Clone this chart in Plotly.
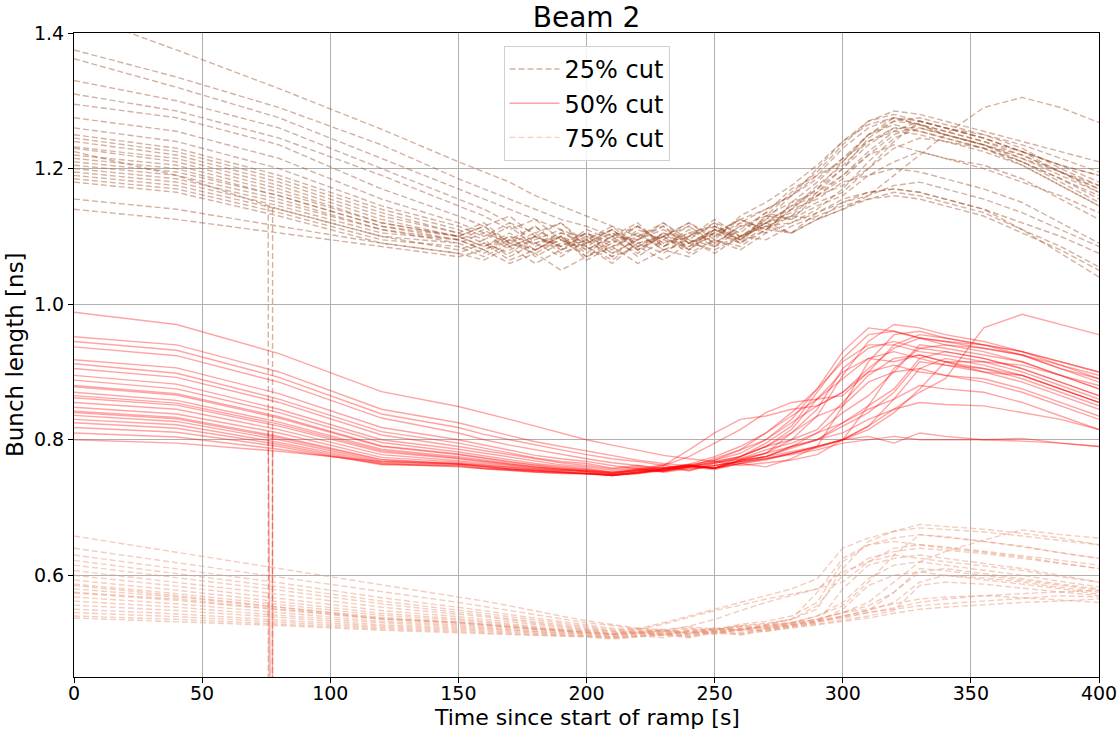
import plotly.graph_objects as go

# ---------------- data ----------------
# sample times [s]: smooth decline, then the noisy plateau every 10 s, then the rise / decay
TIME = [0, 40, 80, 120, 150,
        160, 170, 180, 190, 200, 210, 220, 230, 240, 250, 260, 270, 280, 290,
        300, 310, 320, 330, 340,
        355, 370, 385, 400]

CUT25_LINES = [
    [1.43, 1.375, 1.318, 1.258, 1.21, 1.195, 1.18, 1.16, 1.145, 1.13, 1.115, 1.10, 1.115, 1.09, 1.11, 1.095, 1.12, 1.135, 1.16, 1.19, 1.225, 1.255, 1.27, 1.26, 1.245, 1.225, 1.205, 1.19],
    [1.375, 1.335, 1.29, 1.235, 1.185, 1.17, 1.155, 1.14, 1.125, 1.115, 1.10, 1.115, 1.09, 1.105, 1.085, 1.10, 1.115, 1.105, 1.125, 1.14, 1.16, 1.19, 1.22, 1.25, 1.29, 1.305, 1.29, 1.268],
    [1.362, 1.32, 1.275, 1.215, 1.17, 1.155, 1.14, 1.125, 1.11, 1.095, 1.115, 1.085, 1.105, 1.08, 1.11, 1.095, 1.125, 1.14, 1.17, 1.21, 1.25, 1.275, 1.265, 1.255, 1.24, 1.225, 1.205, 1.19],
    [1.33, 1.30, 1.26, 1.20, 1.155, 1.14, 1.12, 1.105, 1.12, 1.09, 1.105, 1.08, 1.10, 1.115, 1.09, 1.115, 1.13, 1.165, 1.195, 1.235, 1.27, 1.285, 1.28, 1.27, 1.255, 1.24, 1.225, 1.21],
    [1.31, 1.285, 1.245, 1.19, 1.145, 1.13, 1.11, 1.125, 1.095, 1.08, 1.10, 1.12, 1.085, 1.10, 1.125, 1.10, 1.12, 1.145, 1.17, 1.20, 1.245, 1.27, 1.265, 1.25, 1.235, 1.215, 1.195, 1.175],
    [1.295, 1.275, 1.235, 1.17, 1.13, 1.115, 1.13, 1.10, 1.085, 1.105, 1.075, 1.095, 1.12, 1.09, 1.105, 1.125, 1.11, 1.13, 1.15, 1.165, 1.20, 1.24, 1.27, 1.26, 1.245, 1.225, 1.205, 1.18],
    [1.275, 1.255, 1.215, 1.155, 1.12, 1.105, 1.09, 1.115, 1.08, 1.095, 1.07, 1.10, 1.085, 1.11, 1.09, 1.115, 1.12, 1.105, 1.135, 1.15, 1.165, 1.17, 1.165, 1.155, 1.14, 1.12, 1.10, 1.075],
    [1.26, 1.24, 1.20, 1.145, 1.115, 1.10, 1.12, 1.09, 1.105, 1.10, 1.08, 1.11, 1.095, 1.115, 1.085, 1.12, 1.14, 1.16, 1.19, 1.23, 1.26, 1.275, 1.265, 1.255, 1.24, 1.22, 1.195, 1.17],
    [1.245, 1.225, 1.185, 1.135, 1.105, 1.12, 1.09, 1.105, 1.075, 1.09, 1.11, 1.08, 1.105, 1.095, 1.12, 1.09, 1.13, 1.125, 1.145, 1.16, 1.19, 1.21, 1.225, 1.215, 1.20, 1.18, 1.16, 1.135],
    [1.232, 1.215, 1.175, 1.125, 1.10, 1.085, 1.105, 1.08, 1.10, 1.07, 1.095, 1.115, 1.09, 1.10, 1.12, 1.105, 1.135, 1.17, 1.19, 1.21, 1.25, 1.265, 1.255, 1.245, 1.23, 1.21, 1.185, 1.16],
    [1.22, 1.205, 1.165, 1.12, 1.10, 1.115, 1.085, 1.10, 1.12, 1.085, 1.105, 1.09, 1.075, 1.10, 1.115, 1.095, 1.12, 1.13, 1.125, 1.15, 1.16, 1.175, 1.18, 1.17, 1.155, 1.135, 1.11, 1.085],
    [1.21, 1.195, 1.16, 1.115, 1.095, 1.08, 1.10, 1.09, 1.07, 1.095, 1.11, 1.085, 1.10, 1.12, 1.095, 1.13, 1.15, 1.175, 1.205, 1.24, 1.27, 1.28, 1.27, 1.26, 1.245, 1.225, 1.195, 1.165],
    [1.20, 1.185, 1.15, 1.11, 1.09, 1.105, 1.08, 1.095, 1.11, 1.08, 1.10, 1.07, 1.095, 1.085, 1.11, 1.10, 1.12, 1.145, 1.16, 1.185, 1.22, 1.25, 1.265, 1.25, 1.235, 1.21, 1.18, 1.15],
    [1.195, 1.18, 1.145, 1.105, 1.095, 1.08, 1.095, 1.115, 1.085, 1.10, 1.075, 1.095, 1.11, 1.09, 1.105, 1.125, 1.11, 1.14, 1.155, 1.18, 1.19, 1.20, 1.195, 1.185, 1.17, 1.15, 1.12, 1.09],
    [1.19, 1.175, 1.14, 1.10, 1.08, 1.095, 1.07, 1.09, 1.10, 1.065, 1.085, 1.105, 1.08, 1.095, 1.075, 1.10, 1.115, 1.13, 1.165, 1.20, 1.235, 1.26, 1.255, 1.245, 1.23, 1.205, 1.175, 1.145],
    [1.185, 1.17, 1.135, 1.095, 1.085, 1.07, 1.09, 1.075, 1.095, 1.085, 1.06, 1.09, 1.10, 1.075, 1.095, 1.085, 1.11, 1.105, 1.125, 1.14, 1.155, 1.16, 1.155, 1.145, 1.13, 1.105, 1.08, 1.05],
    [1.18, 1.165, 1.13, 1.09, 1.075, 1.09, 1.065, 1.08, 1.095, 1.07, 1.09, 1.105, 1.08, 1.09, 1.11, 1.09, 1.115, 1.12, 1.14, 1.17, 1.21, 1.245, 1.26, 1.25, 1.235, 1.22, 1.195, 1.17],
    [1.155, 1.14, 1.115, 1.09, 1.075, 1.065, 1.085, 1.06, 1.08, 1.095, 1.07, 1.085, 1.065, 1.09, 1.08, 1.10, 1.095, 1.115, 1.13, 1.145, 1.155, 1.165, 1.16, 1.15, 1.135, 1.11, 1.085, 1.055],
    [1.14, 1.125, 1.105, 1.085, 1.07, 1.08, 1.06, 1.075, 1.05, 1.07, 1.085, 1.06, 1.08, 1.07, 1.095, 1.08, 1.105, 1.12, 1.135, 1.155, 1.165, 1.17, 1.165, 1.155, 1.14, 1.11, 1.075, 1.04],
    [1.225, 1.19, 1.14, 1.10, 1.09, 1.075, 1.095, 1.08, 1.10, 1.085, 1.065, 1.09, 1.10, 1.08, 1.115, 1.10, 1.125, 1.16, 1.20, 1.24, 1.265, 1.275, 1.27, 1.26, 1.25, 1.23, 1.20, 1.175],
    [1.25, 1.23, 1.19, 1.14, 1.11, 1.095, 1.115, 1.085, 1.105, 1.09, 1.11, 1.08, 1.10, 1.12, 1.10, 1.125, 1.14, 1.16, 1.185, 1.215, 1.24, 1.255, 1.25, 1.24, 1.23, 1.21, 1.185, 1.155],
    [1.205, 1.19, 1.155, 1.11, 1.095, 1.11, 1.085, 1.10, 1.08, 1.105, 1.09, 1.115, 1.085, 1.105, 1.115, 1.095, 1.13, 1.15, 1.165, 1.19, 1.22, 1.235, 1.225, 1.215, 1.205, 1.185, 1.155, 1.125],
    [1.24, 1.22, 1.18, 1.13, 1.105, 1.09, 1.075, 1.10, 1.085, 1.11, 1.095, 1.075, 1.105, 1.085, 1.10, 1.12, 1.105, 1.15, 1.18, 1.215, 1.25, 1.27, 1.275, 1.265, 1.25, 1.235, 1.215, 1.195],
    [1.215, 1.20, 1.16, 1.115, 1.10, 1.085, 1.10, 1.07, 1.09, 1.105, 1.085, 1.10, 1.12, 1.095, 1.085, 1.11, 1.135, 1.125, 1.16, 1.175, 1.20, 1.23, 1.245, 1.24, 1.225, 1.205, 1.175, 1.145],
    [1.23, 1.21, 1.17, 1.12, 1.10, 1.115, 1.09, 1.08, 1.10, 1.075, 1.10, 1.095, 1.115, 1.08, 1.105, 1.09, 1.11, 1.14, 1.175, 1.205, 1.24, 1.26, 1.26, 1.25, 1.235, 1.215, 1.19, 1.165],
]

CUT50_LINES = [
    [0.988, 0.97, 0.927, 0.871, 0.849, 0.84, 0.83, 0.82, 0.81, 0.80, 0.792, 0.785, 0.777, 0.772, 0.768, 0.762, 0.766, 0.77, 0.778, 0.80, 0.85, 0.905, 0.935, 0.94, 0.935, 0.925, 0.905, 0.89],
    [0.952, 0.94, 0.90, 0.845, 0.825, 0.815, 0.806, 0.797, 0.79, 0.783, 0.776, 0.77, 0.765, 0.762, 0.758, 0.765, 0.76, 0.772, 0.79, 0.85, 0.915, 0.955, 0.96, 0.95, 0.94, 0.93, 0.915, 0.90],
    [0.945, 0.932, 0.892, 0.838, 0.818, 0.808, 0.80, 0.792, 0.785, 0.778, 0.772, 0.768, 0.762, 0.775, 0.795, 0.815, 0.84, 0.855, 0.86, 0.865, 0.90, 0.94, 0.955, 0.95, 0.94, 0.93, 0.91, 0.895],
    [0.937, 0.924, 0.885, 0.832, 0.81, 0.80, 0.792, 0.785, 0.778, 0.772, 0.766, 0.762, 0.758, 0.764, 0.758, 0.77, 0.78, 0.80, 0.835, 0.895, 0.945, 0.97, 0.965, 0.955, 0.945, 0.93, 0.915, 0.90],
    [0.918, 0.906, 0.868, 0.818, 0.80, 0.792, 0.785, 0.777, 0.772, 0.768, 0.762, 0.757, 0.763, 0.755, 0.762, 0.77, 0.775, 0.788, 0.80, 0.825, 0.85, 0.875, 0.92, 0.93, 0.92, 0.905, 0.885, 0.865],
    [0.912, 0.898, 0.86, 0.812, 0.795, 0.788, 0.78, 0.773, 0.768, 0.765, 0.758, 0.762, 0.755, 0.76, 0.768, 0.775, 0.79, 0.815, 0.86, 0.90, 0.92, 0.915, 0.925, 0.915, 0.90, 0.885, 0.865, 0.845],
    [0.905, 0.892, 0.855, 0.807, 0.79, 0.784, 0.777, 0.771, 0.766, 0.762, 0.757, 0.76, 0.754, 0.762, 0.758, 0.768, 0.775, 0.79, 0.81, 0.84, 0.865, 0.90, 0.94, 0.935, 0.925, 0.915, 0.895, 0.875],
    [0.895, 0.882, 0.845, 0.80, 0.786, 0.78, 0.774, 0.768, 0.763, 0.76, 0.755, 0.758, 0.752, 0.757, 0.762, 0.768, 0.772, 0.78, 0.788, 0.80, 0.805, 0.795, 0.81, 0.805, 0.80, 0.802, 0.795, 0.79],
    [0.888, 0.875, 0.84, 0.796, 0.782, 0.776, 0.77, 0.765, 0.761, 0.758, 0.752, 0.756, 0.76, 0.754, 0.766, 0.772, 0.78, 0.81, 0.845, 0.905, 0.935, 0.945, 0.935, 0.93, 0.92, 0.905, 0.885, 0.865],
    [0.878, 0.866, 0.832, 0.79, 0.778, 0.772, 0.767, 0.762, 0.758, 0.756, 0.75, 0.755, 0.758, 0.762, 0.758, 0.77, 0.775, 0.79, 0.80, 0.82, 0.84, 0.87, 0.915, 0.91, 0.90, 0.895, 0.875, 0.855],
    [0.87, 0.858, 0.826, 0.786, 0.775, 0.77, 0.765, 0.76, 0.757, 0.754, 0.75, 0.756, 0.753, 0.76, 0.772, 0.785, 0.81, 0.84, 0.875, 0.915, 0.94, 0.94, 0.93, 0.925, 0.915, 0.90, 0.88, 0.86],
    [0.862, 0.851, 0.82, 0.782, 0.772, 0.767, 0.763, 0.759, 0.756, 0.754, 0.751, 0.755, 0.762, 0.785, 0.81, 0.83, 0.835, 0.845, 0.85, 0.87, 0.905, 0.935, 0.95, 0.945, 0.94, 0.925, 0.905, 0.885],
    [0.855, 0.845, 0.815, 0.778, 0.769, 0.765, 0.761, 0.758, 0.755, 0.753, 0.748, 0.752, 0.757, 0.762, 0.758, 0.775, 0.79, 0.81, 0.835, 0.85, 0.885, 0.90, 0.905, 0.895, 0.89, 0.875, 0.855, 0.835],
    [0.848, 0.838, 0.81, 0.774, 0.767, 0.763, 0.76, 0.756, 0.754, 0.752, 0.747, 0.752, 0.755, 0.76, 0.766, 0.772, 0.785, 0.795, 0.81, 0.825, 0.845, 0.86, 0.88, 0.875, 0.87, 0.855, 0.835, 0.815],
    [0.842, 0.833, 0.805, 0.771, 0.765, 0.761, 0.758, 0.755, 0.753, 0.75, 0.748, 0.753, 0.756, 0.764, 0.775, 0.79, 0.81, 0.835, 0.86, 0.89, 0.92, 0.93, 0.92, 0.91, 0.905, 0.89, 0.87, 0.85],
    [0.836, 0.827, 0.80, 0.768, 0.764, 0.76, 0.757, 0.754, 0.752, 0.751, 0.748, 0.751, 0.755, 0.76, 0.758, 0.768, 0.775, 0.782, 0.79, 0.80, 0.815, 0.84, 0.875, 0.915, 0.915, 0.91, 0.895, 0.88],
    [0.83, 0.822, 0.796, 0.766, 0.763, 0.759, 0.756, 0.754, 0.752, 0.75, 0.747, 0.75, 0.757, 0.762, 0.77, 0.785, 0.80, 0.825, 0.85, 0.87, 0.90, 0.91, 0.90, 0.895, 0.885, 0.87, 0.85, 0.83],
    [0.825, 0.817, 0.793, 0.764, 0.762, 0.758, 0.756, 0.753, 0.752, 0.751, 0.749, 0.752, 0.756, 0.762, 0.758, 0.77, 0.78, 0.79, 0.80, 0.81, 0.83, 0.845, 0.855, 0.852, 0.85, 0.84, 0.83, 0.815],
    [0.818, 0.811, 0.79, 0.763, 0.761, 0.757, 0.755, 0.752, 0.75, 0.75, 0.748, 0.75, 0.754, 0.758, 0.762, 0.768, 0.772, 0.778, 0.785, 0.795, 0.80, 0.805, 0.80, 0.80, 0.80, 0.798, 0.795, 0.79],
    [0.81, 0.804, 0.786, 0.765, 0.76, 0.757, 0.755, 0.752, 0.751, 0.75, 0.748, 0.751, 0.757, 0.76, 0.768, 0.775, 0.79, 0.80, 0.815, 0.855, 0.895, 0.92, 0.925, 0.915, 0.905, 0.895, 0.875, 0.855],
    [0.80, 0.795, 0.783, 0.768, 0.765, 0.762, 0.76, 0.757, 0.755, 0.755, 0.752, 0.754, 0.758, 0.762, 0.758, 0.765, 0.77, 0.78, 0.79, 0.80, 0.82, 0.845, 0.87, 0.89, 0.965, 0.985, 0.97, 0.955],
    [0.865, 0.854, 0.823, 0.784, 0.773, 0.768, 0.764, 0.76, 0.757, 0.754, 0.75, 0.754, 0.758, 0.763, 0.77, 0.78, 0.80, 0.83, 0.875, 0.93, 0.965, 0.96, 0.95, 0.945, 0.935, 0.925, 0.91, 0.89],
    [0.88, 0.868, 0.834, 0.791, 0.779, 0.773, 0.768, 0.763, 0.759, 0.756, 0.752, 0.757, 0.753, 0.76, 0.765, 0.775, 0.795, 0.82, 0.87, 0.92, 0.955, 0.96, 0.95, 0.94, 0.93, 0.915, 0.895, 0.875],
    [0.84, 0.831, 0.803, 0.77, 0.764, 0.76, 0.757, 0.755, 0.753, 0.75, 0.747, 0.751, 0.755, 0.76, 0.756, 0.765, 0.772, 0.78, 0.79, 0.80, 0.82, 0.86, 0.905, 0.92, 0.91, 0.895, 0.875, 0.855],
]

CUT75_LINES = [
    [0.658, 0.634, 0.610, 0.586, 0.569, 0.562, 0.555, 0.547, 0.54, 0.533, 0.527, 0.522, 0.52, 0.524, 0.521, 0.526, 0.529, 0.535, 0.55, 0.61, 0.65, 0.665, 0.67, 0.668, 0.664, 0.658, 0.652, 0.645],
    [0.64, 0.619, 0.597, 0.576, 0.56, 0.554, 0.548, 0.542, 0.536, 0.53, 0.526, 0.521, 0.53, 0.54, 0.55, 0.56, 0.57, 0.58, 0.595, 0.64, 0.655, 0.665, 0.675, 0.672, 0.668, 0.662, 0.655, 0.645],
    [0.63, 0.61, 0.589, 0.567, 0.553, 0.548, 0.542, 0.537, 0.532, 0.527, 0.522, 0.52, 0.517, 0.522, 0.519, 0.528, 0.532, 0.54, 0.56, 0.62, 0.645, 0.655, 0.66, 0.656, 0.65, 0.642, 0.633, 0.625],
    [0.622, 0.603, 0.583, 0.562, 0.549, 0.544, 0.539, 0.534, 0.529, 0.524, 0.52, 0.516, 0.519, 0.515, 0.522, 0.519, 0.525, 0.53, 0.54, 0.555, 0.59, 0.63, 0.66, 0.657, 0.65, 0.643, 0.633, 0.625],
    [0.615, 0.597, 0.578, 0.558, 0.546, 0.541, 0.536, 0.531, 0.527, 0.523, 0.518, 0.522, 0.518, 0.525, 0.535, 0.548, 0.56, 0.57, 0.58, 0.605, 0.62, 0.63, 0.625, 0.62, 0.614, 0.607, 0.598, 0.59],
    [0.607, 0.59, 0.572, 0.553, 0.543, 0.539, 0.534, 0.529, 0.525, 0.521, 0.517, 0.514, 0.518, 0.514, 0.52, 0.524, 0.521, 0.528, 0.535, 0.545, 0.555, 0.575, 0.605, 0.61, 0.603, 0.595, 0.587, 0.58],
    [0.60, 0.584, 0.566, 0.548, 0.539, 0.535, 0.531, 0.527, 0.523, 0.52, 0.516, 0.519, 0.515, 0.521, 0.518, 0.525, 0.528, 0.535, 0.555, 0.60, 0.625, 0.635, 0.64, 0.637, 0.632, 0.625, 0.617, 0.61],
    [0.593, 0.578, 0.561, 0.544, 0.536, 0.532, 0.528, 0.524, 0.521, 0.519, 0.514, 0.517, 0.513, 0.518, 0.522, 0.519, 0.526, 0.53, 0.535, 0.545, 0.55, 0.558, 0.565, 0.568, 0.57, 0.567, 0.564, 0.56],
    [0.587, 0.573, 0.557, 0.541, 0.534, 0.53, 0.526, 0.523, 0.52, 0.518, 0.513, 0.516, 0.52, 0.515, 0.522, 0.519, 0.527, 0.535, 0.575, 0.625, 0.645, 0.65, 0.645, 0.64, 0.634, 0.627, 0.618, 0.61],
    [0.58, 0.568, 0.553, 0.538, 0.531, 0.528, 0.525, 0.522, 0.519, 0.517, 0.513, 0.516, 0.512, 0.518, 0.514, 0.521, 0.524, 0.528, 0.532, 0.54, 0.548, 0.575, 0.61, 0.607, 0.60, 0.593, 0.585, 0.578],
    [0.574, 0.563, 0.549, 0.535, 0.529, 0.526, 0.523, 0.52, 0.518, 0.516, 0.512, 0.515, 0.519, 0.514, 0.52, 0.525, 0.522, 0.53, 0.54, 0.56, 0.595, 0.615, 0.62, 0.615, 0.608, 0.60, 0.591, 0.583],
    [0.568, 0.558, 0.545, 0.532, 0.527, 0.524, 0.521, 0.519, 0.517, 0.515, 0.512, 0.514, 0.511, 0.517, 0.513, 0.52, 0.523, 0.527, 0.532, 0.538, 0.545, 0.552, 0.56, 0.565, 0.57, 0.573, 0.575, 0.578],
    [0.562, 0.553, 0.541, 0.53, 0.525, 0.522, 0.52, 0.517, 0.515, 0.514, 0.51, 0.513, 0.517, 0.512, 0.519, 0.516, 0.522, 0.526, 0.532, 0.55, 0.585, 0.60, 0.605, 0.60, 0.594, 0.587, 0.58, 0.572],
    [0.556, 0.548, 0.538, 0.527, 0.523, 0.521, 0.518, 0.516, 0.514, 0.513, 0.509, 0.512, 0.516, 0.511, 0.518, 0.521, 0.518, 0.527, 0.533, 0.54, 0.548, 0.56, 0.59, 0.60, 0.596, 0.59, 0.582, 0.575],
    [0.55, 0.543, 0.534, 0.525, 0.521, 0.519, 0.517, 0.515, 0.513, 0.512, 0.509, 0.511, 0.508, 0.514, 0.517, 0.513, 0.52, 0.524, 0.53, 0.537, 0.545, 0.55, 0.555, 0.558, 0.562, 0.566, 0.57, 0.568],
    [0.545, 0.539, 0.531, 0.523, 0.519, 0.517, 0.515, 0.513, 0.512, 0.511, 0.508, 0.51, 0.514, 0.51, 0.517, 0.514, 0.521, 0.525, 0.53, 0.58, 0.615, 0.625, 0.63, 0.625, 0.618, 0.61, 0.60, 0.59],
    [0.54, 0.535, 0.528, 0.521, 0.517, 0.515, 0.514, 0.512, 0.511, 0.51, 0.507, 0.51, 0.513, 0.509, 0.516, 0.52, 0.517, 0.524, 0.528, 0.534, 0.54, 0.548, 0.585, 0.59, 0.587, 0.581, 0.575, 0.57],
    [0.537, 0.532, 0.526, 0.519, 0.515, 0.514, 0.512, 0.511, 0.51, 0.509, 0.506, 0.509, 0.512, 0.508, 0.515, 0.512, 0.518, 0.522, 0.527, 0.532, 0.537, 0.544, 0.55, 0.553, 0.557, 0.56, 0.562, 0.565],
    [0.585, 0.57, 0.553, 0.536, 0.531, 0.527, 0.524, 0.521, 0.519, 0.517, 0.514, 0.52, 0.528, 0.538, 0.548, 0.556, 0.565, 0.572, 0.58, 0.59, 0.62, 0.64, 0.645, 0.642, 0.636, 0.629, 0.622, 0.615],
    [0.575, 0.565, 0.55, 0.536, 0.53, 0.527, 0.523, 0.52, 0.518, 0.516, 0.513, 0.516, 0.512, 0.519, 0.516, 0.522, 0.526, 0.53, 0.535, 0.545, 0.56, 0.59, 0.62, 0.635, 0.652, 0.667, 0.66, 0.655],
]

# one bunch per cut drops out for a moment shortly after t = 76 s
GLITCH_TIME = [75.8, 75.9, 77.4, 77.5]
GLITCH25 = [1.145, 0.0, 0.0, 1.145]
GLITCH50 = [0.813, 0.0, 0.0, 0.813]
GLITCH75 = [0.555, 0.0, 0.0, 0.555]

CUT_NAMES = ["25% cut", "50% cut", "75% cut"]
X_TICKS = [0, 50, 100, 150, 200, 250, 300, 350, 400]
Y_TICKS = [0.6, 0.8, 1.0, 1.2, 1.4]

# ---------------- styling ----------------
FONT = "DejaVu Sans"
STYLES = [
    dict(color="rgba(160,82,45,0.45)", dash="6px,3px", width=1.4),
    dict(color="rgba(255,0,0,0.36)", dash="solid", width=1.4),
    dict(color="rgba(233,150,122,0.48)", dash="6px,3px", width=1.4),
]

for group in (CUT25_LINES, CUT50_LINES, CUT75_LINES):
    for row in group:
        assert len(row) == len(TIME), (len(row), row[:3])

fig = go.Figure()
groups = [(CUT25_LINES, GLITCH25), (CUT50_LINES, GLITCH50), (CUT75_LINES, GLITCH75)]
for gi, (lines, glitch) in enumerate(groups):
    for li, row in enumerate(lines):
        fig.add_trace(go.Scatter(
            x=TIME, y=row, mode="lines", line=STYLES[gi],
            name=CUT_NAMES[gi], legendgroup=CUT_NAMES[gi],
            showlegend=(li == 0), hoverinfo="skip"))
    fig.add_trace(go.Scatter(
        x=GLITCH_TIME, y=glitch, mode="lines", line=STYLES[gi],
        name=CUT_NAMES[gi], legendgroup=CUT_NAMES[gi],
        showlegend=False, hoverinfo="skip"))

axis_common = dict(
    showline=True, linecolor="black", linewidth=1, mirror=True,
    ticks="outside", ticklen=5, tickcolor="black",
    showgrid=True, gridcolor="#b0b0b0", gridwidth=1,
    zeroline=False, automargin=False,
    tickfont=dict(family=FONT, size=19, color="black"),
)

fig.update_layout(
    width=1119, height=731,
    margin=dict(l=74, r=20, t=33, b=54),
    paper_bgcolor="white", plot_bgcolor="white",
    font=dict(family=FONT, color="black"),
    title=dict(text="Beam 2", font=dict(family=FONT, size=28, color="black"),
               x=0.5, xref="paper", xanchor="center",
               y=1 - 17 / 731, yref="container", yanchor="middle"),
    xaxis=dict(range=[0, 400], tickvals=X_TICKS, ticklabelstandoff=-6, **axis_common),
    yaxis=dict(range=[0.45, 1.4], tickvals=Y_TICKS, tickformat=".1f", **axis_common),
    legend=dict(x=0.5, xanchor="center", y=0.98, yanchor="top",
                bgcolor="rgba(255,255,255,0.85)", bordercolor="#d0d0d0",
                borderwidth=1, font=dict(family=FONT, size=24, color="black"),
                itemwidth=50, tracegroupgap=0),
    showlegend=True,
    annotations=[
        dict(text="Time since start of ramp [s]", xref="paper", yref="paper",
             x=0.5, y=0, xanchor="center", yanchor="bottom", yshift=-54,
             borderpad=0, showarrow=False,
             font=dict(family=FONT, size=22, color="black")),
        dict(text="Bunch length [ns]", xref="paper", yref="paper",
             x=0, y=0.5, xanchor="center", yanchor="middle", xshift=-59,
             textangle=-90, showarrow=False,
             font=dict(family=FONT, size=23, color="black")),
    ],
)

fig.write_html("out.html")
